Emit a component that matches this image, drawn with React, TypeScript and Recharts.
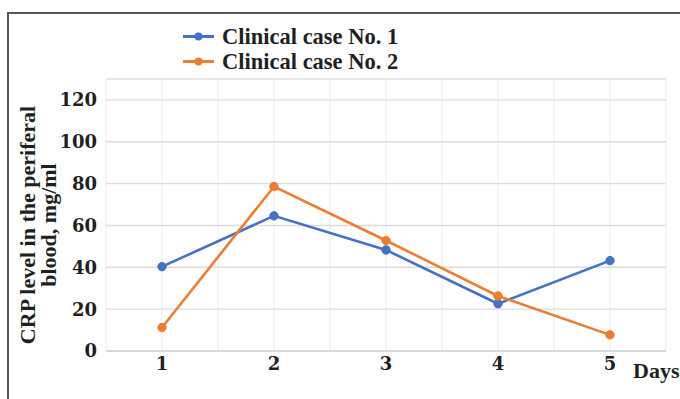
import React from 'react';
import { LineChart, Line, XAxis, YAxis, CartesianGrid, Legend } from 'recharts';

const days = [1, 2, 3, 4, 5];
const case1 = [40.3, 64.6, 48.3, 22.6, 43.2];
const case2 = [11.2, 78.6, 52.8, 26.3, 7.7];
const seriesNames = ['Clinical case No. 1', 'Clinical case No. 2'];
const seriesColors = ['#4472C4', '#ED7D31'];
const yTicks = [0, 20, 40, 60, 80, 100, 120];
const xGridValues = [0.5, 1, 1.5, 2, 2.5, 3, 3.5, 4, 4.5, 5, 5.5];
const yAxisTitle = ['CRP level in the periferal', 'blood, mg/ml'];
const xAxisTitle = 'Days';

const data = days.map((d, i) => ({ day: d, c1: case1[i], c2: case2[i] }));

const SERIF = '"Liberation Serif", "Times New Roman", serif';
const TICK_FONT = '"DejaVu Serif", serif';
const TEXT = '#1f1f1f';

const renderLegend = (props: any) => {
  const payload = props.payload || [];
  return (
    <div>
      {payload.map((p: any, i: number) => (
        <div key={i} style={{ display: 'flex', alignItems: 'center', height: 25 }}>
          <svg width={31} height={25} style={{ display: 'block' }}>
            <line x1={0} y1={12.5} x2={31} y2={12.5} stroke={p.color} strokeWidth={3} />
            <circle cx={15.5} cy={12.5} r={4} fill={p.color} />
          </svg>
          <span
            style={{
              marginLeft: 8,
              fontFamily: SERIF,
              fontWeight: 700,
              fontSize: 22.5,
              lineHeight: '25px',
              color: TEXT,
              whiteSpace: 'nowrap',
            }}
          >
            {p.value}
          </span>
        </div>
      ))}
    </div>
  );
};

const renderYLabel = (props: any) => {
  const vb = props.viewBox || { x: 0, y: 0, width: 0, height: 0 };
  const cy = vb.y + vb.height / 2 + 10;
  const x1 = vb.x + 35;
  const x2 = vb.x + 56;
  return (
    <g>
      <text
        x={x1}
        y={cy}
        transform={`rotate(-90, ${x1}, ${cy})`}
        textAnchor="middle"
        fontFamily={SERIF}
        fontWeight={700}
        fontSize={22}
        fill={TEXT}
      >
        {yAxisTitle[0]}
      </text>
      <text
        x={x2}
        y={cy}
        transform={`rotate(-90, ${x2}, ${cy})`}
        textAnchor="middle"
        fontFamily={SERIF}
        fontWeight={700}
        fontSize={22}
        fill={TEXT}
      >
        {yAxisTitle[1]}
      </text>
    </g>
  );
};

const renderXLabel = (props: any) => {
  const vb = props.viewBox || { x: 0, y: 0, width: 0, height: 0 };
  return (
    <text
      x={vb.x + vb.width - 33}
      y={vb.y + 27}
      textAnchor="start"
      fontFamily={SERIF}
      fontWeight={700}
      fontSize={22}
      fill={TEXT}
    >
      {xAxisTitle}
    </text>
  );
};

const verticalGen = (args: any) => {
  const xAxis = args.xAxis;
  if (xAxis && typeof xAxis.scale === 'function') {
    return xGridValues.map((v) => xAxis.scale(v));
  }
  const off = args.offset;
  return xGridValues.map((v) => off.left + ((v - 0.5) / 5) * off.width);
};

export default function App() {
  return (
    <div
      style={{
        position: 'absolute',
        left: 0,
        top: 0,
        width: 680,
        height: 399,
        overflow: 'hidden',
        background: '#ffffff',
      }}
    >
      <div
        style={{
          position: 'absolute',
          left: 7,
          top: 12,
          width: 720,
          height: 420,
          borderTop: '2px solid #595959',
          borderLeft: '2px solid #595959',
        }}
      />
      <div style={{ position: 'absolute', left: 0, top: 0 }}>
        <LineChart
          width={680}
          height={399}
          data={data}
          margin={{ top: 79, right: 14, bottom: 18, left: 0 }}
        >
          <CartesianGrid
            horizontal={false}
            vertical={true}
            stroke="#efefef"
            strokeWidth={1.2}
            verticalCoordinatesGenerator={verticalGen}
          />
          <CartesianGrid horizontal={true} vertical={false} stroke="#dcdcdc" strokeWidth={1.4} />
          <XAxis
            dataKey="day"
            type="number"
            domain={[0.5, 5.5]}
            ticks={days}
            allowDataOverflow
            height={30}
            tickSize={0}
            tickMargin={6}
            axisLine={{ stroke: '#d6d6d6', strokeWidth: 1.5 }}
            tickLine={false}
            tick={{ fontFamily: TICK_FONT, fontWeight: 700, fontSize: 18, fill: TEXT }}
            label={renderXLabel}
          />
          <YAxis
            type="number"
            domain={[0, 130]}
            ticks={yTicks}
            width={106}
            tickSize={0}
            tickMargin={9}
            axisLine={false}
            tickLine={false}
            tick={{ fontFamily: TICK_FONT, fontWeight: 700, fontSize: 18, fill: TEXT }}
            label={renderYLabel}
          />
          <Legend
            layout="vertical"
            align="center"
            verticalAlign="middle"
            content={renderLegend}
            wrapperStyle={{ top: 24, left: 183, width: 'auto' }}
          />
          <Line
            type="linear"
            dataKey="c1"
            name={seriesNames[0]}
            stroke={seriesColors[0]}
            strokeWidth={2.6}
            dot={{ r: 4.2, fill: seriesColors[0], stroke: seriesColors[0], strokeWidth: 1 }}
            activeDot={false}
            isAnimationActive={false}
          />
          <Line
            type="linear"
            dataKey="c2"
            name={seriesNames[1]}
            stroke={seriesColors[1]}
            strokeWidth={2.6}
            dot={{ r: 4.2, fill: seriesColors[1], stroke: seriesColors[1], strokeWidth: 1 }}
            activeDot={false}
            isAnimationActive={false}
          />
        </LineChart>
      </div>
    </div>
  );
}
